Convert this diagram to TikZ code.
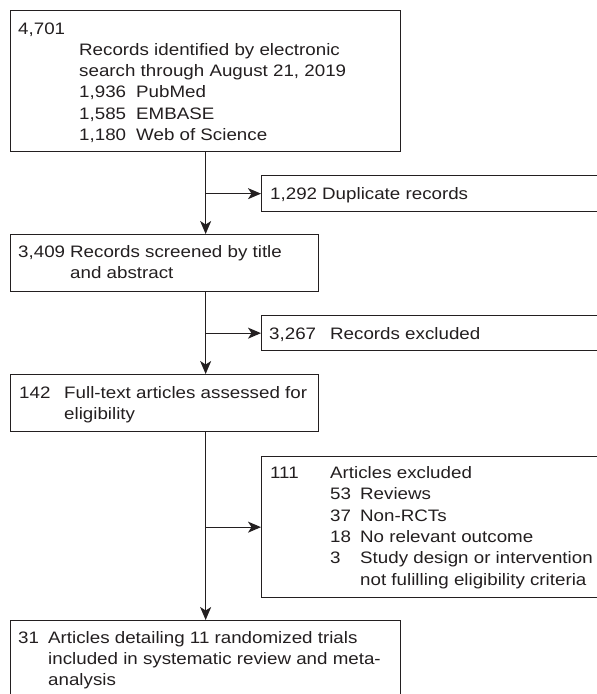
\documentclass[tikz,border=0pt]{standalone}
\usepackage{fontspec}
\setmainfont[FakeStretch=1.13]{Liberation Sans}
\usetikzlibrary{arrows.meta}
\definecolor{ink}{RGB}{35,31,32}
\tikzset{
  box/.style={draw=ink, line width=1.3pt, rectangle, inner sep=0pt, anchor=north west},
  txt/.style={anchor=base west, inner sep=0pt, text=ink, font=\fontsize{16.6}{21.3}\selectfont},
  arr/.style={draw=ink, line width=1.3pt, -{Stealth[length=13pt,width=11pt,inset=3.5pt]}}
}
\begin{document}
\begin{tikzpicture}[x=1pt,y=-1pt]
\clip (0,0) rectangle (597,694);
\fill[white] (0,0) rectangle (597,694);
% boxes
\node[box, minimum width=390pt, minimum height=141pt] (b1) at (10,10) {};
\node[box, minimum width=359pt, minimum height=36pt] (dup) at (261,175) {};
\node[box, minimum width=308pt, minimum height=57pt] (b2) at (10,234) {};
\node[box, minimum width=359pt, minimum height=35pt] (rex) at (261,315) {};
\node[box, minimum width=308pt, minimum height=57pt] (b3) at (10,374) {};
\node[box, minimum width=359pt, minimum height=141pt] (b4) at (261,456) {};
\node[box, minimum width=390pt, minimum height=100pt] (b5) at (10,620) {};
% box 1 text
\node[txt] (t1) at (18,34) {4,701};
\node[txt] (t2) at (79,55.3) {Records identified by electronic};
\node[txt] (t3) at (79,76.6) {search through August 21, 2019};
\node[txt] (t4) at (79,97.9) {1,936};
\node[txt] (t5) at (136,97.9) {PubMed};
\node[txt] (t6) at (79,119.2) {1,585};
\node[txt] (t7) at (136,119.2) {EMBASE};
\node[txt] (t8) at (79,140.5) {1,180};
\node[txt] (t9) at (136,140.5) {Web of Science};
% duplicate
\node[txt] (t10) at (270,199) {1,292};
\node[txt] (t11) at (322,199) {Duplicate records};
% box 2
\node[txt] (t12) at (18,257.5) {3,409};
\node[txt] (t13) at (70,257.5) {Records screened by title};
\node[txt] (t14) at (70,278.8) {and abstract};
% records excluded
\node[txt] (t15) at (269,339) {3,267};
\node[txt] (t16) at (330,339) {Records excluded};
% box 3
\node[txt] (t17) at (19,398) {142};
\node[txt] (t18) at (64,398) {Full-text articles assessed for};
\node[txt] (t19) at (64,419.3) {eligibility};
% box 4
\node[txt] (t20) at (270,478.5) {111};
\node[txt] (t21) at (330,478.5) {Articles excluded};
\node[txt] (t22) at (330,499.8) {53};
\node[txt] (t23) at (360,499.8) {Reviews};
\node[txt] (t24) at (330,521.1) {37};
\node[txt] (t25) at (360,521.1) {Non-RCTs};
\node[txt] (t26) at (330,542.4) {18};
\node[txt] (t27) at (360,542.4) {No relevant outcome};
\node[txt] (t28) at (330,563.7) {3};
\node[txt] (t29) at (360,563.7) {Study design or intervention};
\node[txt] (t30) at (360,585) {not fulilling eligibility criteria};
% box 5
\node[txt] (t31) at (18,643) {31};
\node[txt] (t32) at (48,643) {Articles detailing 11 randomized trials};
\node[txt] (t33) at (48,664.3) {included in systematic review and meta-};
\node[txt] (t34) at (48,685.6) {analysis};
% connectors
\draw[arr] (b1.south) -- (b1.south |- b2.north);
\draw[arr] (b1.south |- dup.west) -- (dup.west);
\draw[arr] (b1.south |- b2.south) -- (b1.south |- b3.north);
\draw[arr] (b1.south |- rex.west) -- (rex.west);
\draw[arr] (b1.south |- b3.south) -- (b1.south |- b5.north);
\draw[arr] (b1.south |- b4.west) -- (b4.west);
\end{tikzpicture}
\end{document}
